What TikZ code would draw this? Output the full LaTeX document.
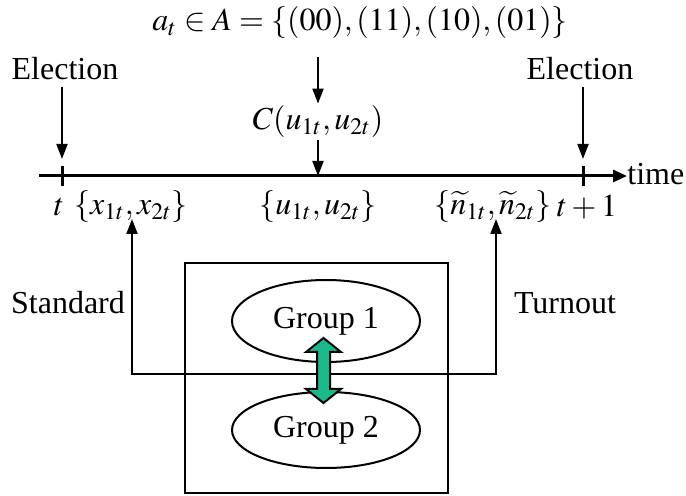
\documentclass[tikz,border=0pt]{standalone}
\usepackage{mathptmx}
\usepackage{fontspec}
\setmainfont{Liberation Serif}
\usetikzlibrary{positioning}
\usetikzlibrary{arrows.meta}
\usetikzlibrary{shapes.geometric}
\definecolor{swapgreen}{RGB}{25,185,140}

\begin{document}
\begin{tikzpicture}[
    x=0.5pt, y=-0.5pt,
    lbl/.style={font=\fontsize{16}{18}\selectfont, inner sep=1pt},
    grp/.style={ellipse, draw, line width=1pt, minimum width=94pt, inner sep=0pt, font=\fontsize{16}{18}\selectfont},
    arr/.style={->, line width=1pt},
    >={Triangle[length=7.5pt,width=5.5pt]}
]
    \useasboundingbox (0,0) rectangle (686,496);

    % top labels
    \node[lbl] (act) at (360,23) {$a_t \in A = \{(00),(11),(10),(01)\}$};
    \node[lbl] (cost) at (318,122) {$C(u_{1t},u_{2t})$};
    \node[lbl] (elecL) at (65,69) {Election};
    \node[lbl] (elecR) at (580,69) {Election};

    % time line
    \coordinate (start) at (39,176);
    \coordinate (tL) at (62,176);
    \coordinate (tR) at (583,176);
    \coordinate (umid) at (318,176);
    \coordinate (tLtip) at (62,159);
    \coordinate (tRtip) at (583,159);
    \node[lbl, anchor=west, inner sep=0pt] (time) at (627,174) {time};
    \draw[line width=1.5pt, -{Triangle[length=7pt,width=6pt]}] (start) -- (time.west |- start);
    \draw[line width=1.5pt] (tL) ++(0,-10) -- ++(0,20);
    \draw[line width=1.5pt] (tR) ++(0,-10) -- ++(0,20);

    \draw[arr] (elecL.south -| tL) ++(0,4) -- (tLtip);
    \draw[arr] (elecR.south -| tR) ++(0,4) -- (tRtip);
    \draw[arr, shorten <=8pt] (act.south -| cost) -- (cost.north);
    \draw[arr] (cost.south) -- (umid);

    % below the line
    \node[lbl] (tlab) at (59,207) {$t$};
    \node[lbl] (xset) at (131,207) {$\{x_{1t},x_{2t}\}$};
    \node[lbl] (uset) at (318,207) {$\{u_{1t},u_{2t}\}$};
    \node[lbl] (nset) at (493,207) {$\{\widetilde{n}_{1t},\widetilde{n}_{2t}\}$};
    \node[lbl] (t1lab) at (587,207) {$t+1$};

    % feedback loop
    \coordinate (xfoot) at (132,219);
    \coordinate (nfoot) at (496,219);
    \coordinate (loopbot) at (318,374);
    \draw[arr, <->] (xfoot) |- (loopbot) -| (nfoot);
    \node[lbl] (std) at (68,303) {Standard};
    \node[lbl] (turn) at (565,303) {Turnout};

    % the two groups
    \node[draw, line width=1.2pt, minimum width=131.5pt, minimum height=115pt, inner sep=0pt] (panel) at (316.5,378) {};
    \node[grp, minimum height=41pt] (g1) at (326,321) {Group 1};
    \node[grp, minimum height=38pt] (g2) at (326,430) {Group 2};
    \coordinate (swap) at (323.5,370.5);
    \draw[line width=1pt, fill=swapgreen, line join=miter] (swap)
        ++(0,-32.5) -- ++(17.5,14) -- ++(-11,0) -- ++(0,37) -- ++(11,0)
        -- ++(-17.5,14) -- ++(-17.5,-14) -- ++(11,0) -- ++(0,-37) -- ++(-11,0) -- cycle;
\end{tikzpicture}
\end{document}
